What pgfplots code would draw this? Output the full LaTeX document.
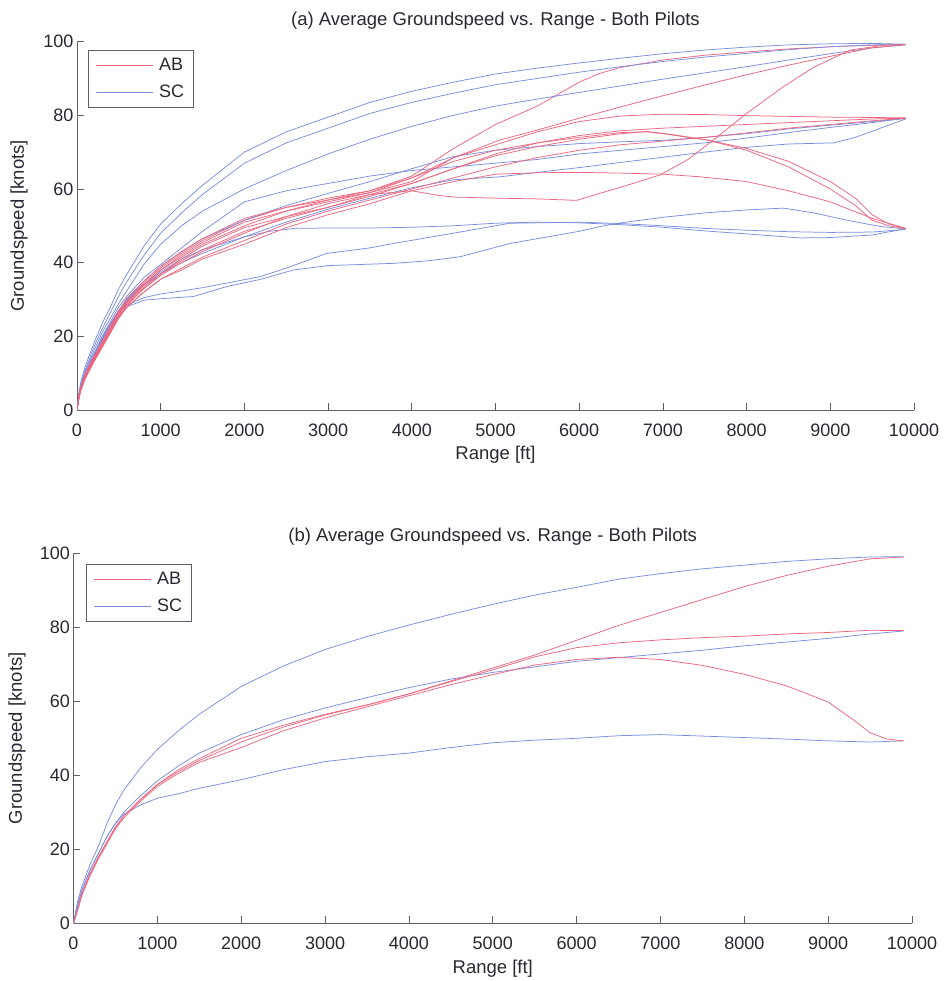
\documentclass[border=0pt]{standalone}
\usepackage{fontspec}
\setmainfont{Liberation Sans}
\usepackage{pgfplots}
\pgfplotsset{compat=1.18}
\definecolor{ab}{RGB}{238,102,126}
\definecolor{sc}{RGB}{122,142,222}
\definecolor{axc}{RGB}{95,95,115}
\definecolor{txt}{RGB}{40,40,50}
\pgfplotsset{mystyle/.style={
  scale only axis,
  xmin=0,xmax=10000,ymin=0,ymax=100,
  axis x line*=bottom, axis y line*=left,
  axis line style={axc,line width=0.8pt,-},
  tick align=inside, major tick length=7pt, tick style={axc,line width=0.8pt},
  xtick={0,1000,...,10000}, ytick={0,20,...,100},
  scaled x ticks=false,
  /pgf/number format/assume math mode=true,
  /pgf/number format/set thousands separator={},
  tick label style={font=\fontsize{18}{20}\selectfont, text=txt},
  xticklabel style={anchor=center, yshift=-20pt},
  label style={font=\fontsize{18.5}{21}\selectfont, text=txt},
  title style={font=\fontsize{18.5}{21}\selectfont, text=txt, at={(0.5,1)}, anchor=base},
  xlabel={Range [ft]}, ylabel={Groundspeed [knots]},
  legend style={draw=axc, line width=0.6pt, font=\fontsize{18}{20}\selectfont, text=txt,
     anchor=north west, inner xsep=7pt, inner ysep=6pt, row sep=9pt, column sep=4pt,
     nodes={inner sep=2pt}, cells={anchor=west}},
  legend image code/.code={\draw[#1,line width=0.75pt] (0pt,0pt) -- (57pt,0pt);},
  every axis plot/.append style={line width=0.75pt},
}}
\begin{document}
\begin{tikzpicture}
\useasboundingbox (0,0) rectangle (944pt,981pt);
% ---------------- (a) ----------------
\begin{axis}[mystyle, at={(77pt,571pt)}, anchor=south west, width=837pt, height=368.4pt,
  title={(a) Average Groundspeed vs. Range - Both Pilots},
  title style={yshift=10.5pt},
  xlabel style={at={(axis description cs:0.5,-0.1222)}, anchor=center},
  ylabel style={at={(axis description cs:-0.0693,0.5)}, anchor=center},
  legend style={at={(axis description cs:0.0131,0.977)}}]
% R1 -> 99
\addplot[ab] coordinates {(0,0)(25,4)(50,6.5)(100,9.5)(200,14)(300,18.5)(400,22.5)(500,27)(600,30)(800,34.5)(1000,38.5)(1250,42.5)(1500,46)(2000,51.5)(2500,55)(3000,57.5)(3500,59.5)(4000,63.5)(4500,71)(5000,77.5)(5500,82.5)(6000,89)(6250,91.4)(6500,93)(7000,95)(7500,96.3)(8000,97.2)(8500,98)(9000,98.6)(9500,99)(9900,99.2)};
\addlegendentry{AB}
% B1 -> 99
\addplot[sc] coordinates {(0,0)(25,5)(50,8)(100,12)(200,18)(300,23.5)(400,28)(500,33)(600,37)(800,44.5)(1000,50.5)(1250,56)(1500,61)(2000,70)(2500,75.5)(3000,79.5)(3500,83.5)(4000,86.5)(4500,89)(5000,91.2)(5500,92.8)(6000,94.2)(6500,95.5)(7000,96.7)(7500,97.7)(8000,98.5)(8500,99.1)(9000,99.4)(9500,99.5)(9900,99.3)};
\addlegendentry{SC}
% B2 -> 99
\addplot[sc,forget plot] coordinates {(0,0)(25,4.5)(50,7.5)(100,11)(200,17)(300,22)(400,26.5)(500,31)(600,35)(800,42)(1000,48)(1250,53.5)(1500,58.5)(2000,67)(2500,72.5)(3000,76.5)(3500,80.5)(4000,83.5)(4500,86)(5000,88.3)(5500,90)(6000,91.7)(6500,93.2)(7000,94.6)(7500,95.8)(8000,96.8)(8500,97.8)(9000,98.6)(9500,99.1)(9900,99.2)};
% B3 -> 99
\addplot[sc,forget plot] coordinates {(0,0)(25,4.5)(50,7)(100,10.5)(200,16)(300,21)(400,25)(500,29)(600,32.5)(800,39.5)(1000,45)(1250,50)(1500,54)(2000,60)(2500,65)(3000,69.5)(3500,73.5)(4000,77)(4500,80)(5000,82.5)(5500,84.4)(6000,86.2)(6500,88)(7000,89.8)(7500,91.5)(8000,93.2)(8500,95)(9000,96.7)(9500,98.3)(9900,99.1)};
% B4 -> 79
\addplot[sc,forget plot] coordinates {(0,0)(25,4)(50,6.5)(100,10)(200,15)(300,20)(400,24)(500,28)(600,31)(800,36)(1000,39.5)(1250,44)(1500,48.5)(2000,56.5)(2500,59.5)(3000,61.5)(3500,63.5)(4000,65)(4500,66)(5000,67)(5500,68)(6000,69.5)(6500,70.5)(7000,71.5)(7500,72.5)(8000,73.8)(8500,75.3)(9000,76.7)(9500,78)(9900,79.2)};
% B5 -> 79
\addplot[sc,forget plot] coordinates {(0,0)(25,4)(50,6.5)(100,9.5)(200,14.5)(300,19)(400,23)(500,26.5)(600,29.5)(800,34)(1000,37)(1250,40)(1500,42.5)(2000,47)(2500,51)(3000,54.5)(3500,57.5)(4000,60.3)(4500,62.5)(5055,63.3)(5500,64.5)(6000,65.8)(6500,67.2)(7000,68.6)(7500,70)(8000,71.3)(8500,72.2)(9040,72.5)(9300,74)(9600,76.5)(9900,79)};
% B6 -> 79
\addplot[sc,forget plot] coordinates {(0,0)(25,4)(50,6.5)(100,10)(200,15)(300,19.5)(400,23.5)(500,27)(600,30)(800,35)(1000,39)(1250,43)(1500,46.5)(2000,51.5)(2500,55.5)(3000,58.8)(3500,62)(4000,65.5)(4500,68.8)(5000,70.5)(5500,71.5)(6000,72.3)(6500,72.8)(7000,73.2)(7500,74)(8000,75)(8500,76.3)(9000,77.3)(9500,78.3)(9900,79.1)};
% B7 -> 49
\addplot[sc,forget plot] coordinates {(0,0)(25,4)(50,6.5)(100,10)(200,15)(300,19.5)(400,23.5)(500,27)(600,30)(800,34)(1000,37.5)(1250,41)(1500,43.5)(2000,47)(2300,48.5)(2600,49.3)(3000,49.4)(3500,49.4)(4000,49.6)(4500,50)(5000,50.7)(5500,51)(6000,50.8)(6500,50.3)(7000,49.6)(7500,48.6)(8000,47.8)(8640,46.7)(9000,46.8)(9500,47.5)(9900,49.2)};
% B8 -> 49
\addplot[sc,forget plot] coordinates {(0,0)(25,4)(50,6.5)(100,9.5)(200,14.5)(300,19)(400,23)(500,26.5)(600,28.5)(800,30.5)(1000,31.5)(1250,32.3)(1500,33.2)(1800,34.5)(2187,36.2)(2500,38.5)(2983,42.5)(3500,44)(3780,45.2)(4500,48)(5174,50.7)(5500,50.8)(6000,51)(6500,50.6)(7000,50)(7500,49.3)(8000,48.8)(8500,48.4)(9000,48.2)(9500,48.3)(9900,49)};
% B9 -> 49
\addplot[sc,forget plot] coordinates {(0,0)(25,4)(50,6)(100,9)(200,13.5)(300,18)(400,22)(500,25.5)(593,28)(800,29.8)(1000,30.2)(1390,30.8)(1788,33.5)(2200,35.5)(2585,38)(3000,39.2)(3780,39.8)(4200,40.5)(4577,41.6)(5174,45.2)(5500,46.5)(6000,48.5)(6250,49.8)(6500,50.8)(7000,52.3)(7500,53.5)(8000,54.3)(8440,54.8)(8800,53.5)(9200,51.5)(9600,49.8)(9900,49.2)};
% R2 -> 99
\addplot[ab,forget plot] coordinates {(0,0)(25,4)(50,6)(100,9)(200,13.5)(300,18)(400,22)(500,26.5)(600,29.5)(800,34)(1000,38)(1250,42)(1500,45.5)(2000,51)(2500,54)(3000,56.5)(3500,59)(4000,62)(4500,68.5)(5055,73.3)(5500,76)(6000,79.2)(6500,82.3)(7000,85.3)(7500,88.2)(8000,91)(8500,93.6)(9000,96)(9500,98.3)(9900,99.2)};
% R3 -> 99 (dip)
\addplot[ab,forget plot] coordinates {(0,0)(25,3.5)(50,6)(100,9)(200,13.5)(300,17.5)(400,21.5)(500,26)(600,29)(800,33.5)(1000,37)(1250,41)(1500,44.5)(2000,49.5)(2500,52.5)(3000,55)(3500,58.5)(4000,59.5)(4300,58.3)(4500,57.8)(5000,57.5)(5500,57.3)(5970,56.9)(6200,58.5)(6500,60.5)(6967,63.8)(7300,68)(7604,73.3)(8000,80.5)(8442,87.8)(8800,93)(9237,97.7)(9637,99)(9900,99.2)};
% R4 -> 79 (80 plateau)
\addplot[ab,forget plot] coordinates {(0,0)(25,4)(50,6.5)(100,9.5)(200,14)(300,18)(400,22)(500,26.5)(600,29.5)(800,34)(1000,38)(1250,41.5)(1500,45)(2000,50)(2500,54)(3000,57)(3500,59)(4000,63)(4500,68.5)(5000,72)(5500,75.5)(6000,78.3)(6500,79.8)(7000,80.3)(7500,80.2)(8000,79.9)(8500,79.7)(9000,79.5)(9500,79.4)(9900,79.3)};
% R5 -> 79
\addplot[ab,forget plot] coordinates {(0,0)(25,3.5)(50,6)(100,9)(200,13.5)(300,17.5)(400,21.5)(500,25.5)(600,28.5)(800,33)(1000,36.5)(1250,40)(1500,43)(2000,48)(2500,52.5)(3000,56)(3500,58.5)(4000,61.5)(4500,65.5)(5000,69.5)(5500,72.5)(6000,74.5)(6500,75.8)(7000,76.5)(7500,77)(8000,77.5)(8500,78)(9000,78.5)(9500,79)(9900,79.2)};
% R6 -> 79
\addplot[ab,forget plot] coordinates {(0,0)(25,3.5)(50,6)(100,9)(200,13)(300,17)(400,21)(500,25)(600,28)(800,32)(1000,35.5)(1250,38.5)(1500,41.5)(2000,46)(2500,50.5)(3000,54)(3500,57)(4000,60)(4500,63)(5000,66)(5500,68.5)(6000,70.5)(6500,72)(7000,73)(7500,74)(8000,75.2)(8500,76.5)(9000,77.5)(9500,78.5)(9900,79.2)};
% R7 -> 49
\addplot[ab,forget plot] coordinates {(0,0)(25,4)(50,6.5)(100,10)(200,14.5)(300,18.5)(400,23)(500,27)(600,30.5)(800,35)(1000,39)(1250,43)(1500,46.5)(2000,52)(2500,55)(3000,57)(3500,59.5)(4000,63)(4500,67.5)(5000,70.5)(5500,72.5)(6000,74)(6500,75.3)(6800,75.5)(7000,75)(7300,74)(7525,73.3)(8000,71)(8500,67.5)(9000,62)(9300,57.5)(9500,53)(9700,50.5)(9900,49.3)};
% R8 -> 49
\addplot[ab,forget plot] coordinates {(0,0)(25,3.5)(50,6)(100,9)(200,13.5)(300,17.5)(400,21.5)(500,26)(600,29)(800,33)(1000,37)(1250,40.5)(1500,43.5)(2000,48.5)(2500,52)(3000,55)(3500,58)(4000,61.5)(4500,65.5)(5000,69)(5500,71.5)(6000,73.5)(6500,75)(6800,75.6)(7100,74.8)(7525,73.3)(8000,70.5)(8500,66)(9000,60)(9300,55.5)(9500,51.5)(9700,50)(9900,49.2)};
% R9 -> 49
\addplot[ab,forget plot] coordinates {(0,0)(25,3.5)(50,5.5)(100,8.5)(200,13)(300,17)(400,21)(500,25)(600,28)(800,32)(1000,35.5)(1250,38)(1500,41)(2000,45)(2500,49.5)(3000,53)(3500,56)(4000,59.5)(4500,62)(5000,64)(5500,64.4)(6000,64.5)(6500,64.3)(7000,64)(7445,63.3)(8000,62)(8500,59.5)(9000,56.5)(9500,52)(9900,49.3)};
\end{axis}
% ---------------- (b) ----------------
\begin{axis}[mystyle, at={(73.5pt,57.7pt)}, anchor=south west, width=838.5pt, height=370pt,
  title={(b) Average Groundspeed vs. Range - Both Pilots},
  title style={yshift=6pt},
  xlabel style={at={(axis description cs:0.5,-0.1235)}, anchor=center},
  ylabel style={at={(axis description cs:-0.0674,0.5)}, anchor=center},
  legend style={at={(axis description cs:0.0149,0.971)}}]
% AB -> 99
\addplot[ab] coordinates {(0,0)(50,4)(100,8)(200,13.5)(300,18)(400,22)(500,26)(600,29)(800,33.5)(1000,37.5)(1250,41)(1500,44)(2000,49)(2500,53)(3000,56.3)(3500,59)(4000,62)(4500,65.5)(5000,69)(5500,72.5)(6000,76.5)(6500,80.5)(7000,84)(7500,87.5)(8000,91)(8500,94)(9000,96.5)(9500,98.5)(9900,99)};
\addlegendentry{AB}
% SC -> 99
\addplot[sc] coordinates {(0,0)(50,6)(100,10)(200,16)(300,21)(400,27)(500,32)(600,36)(800,42)(1000,47)(1250,52)(1500,56.5)(2000,64)(2500,69.5)(3000,74)(3500,77.5)(4000,80.6)(4500,83.5)(5000,86.2)(5500,88.7)(6000,90.8)(6500,93)(7000,94.5)(7500,95.8)(8000,96.8)(8500,97.8)(9000,98.5)(9500,99)(9900,99.1)};
\addlegendentry{SC}
% SC -> 79
\addplot[sc,forget plot] coordinates {(0,0)(50,5)(100,9)(200,14.5)(300,19)(400,23.5)(500,27)(600,30)(800,34.5)(1000,38.5)(1250,42.5)(1500,46)(2000,51)(2500,55)(3000,58.2)(3500,61)(4000,63.7)(4500,66)(5000,67.8)(5500,69.3)(6000,70.8)(6500,71.8)(7000,72.8)(7500,73.8)(8000,75)(8500,76)(9000,77)(9500,78.2)(9900,79)};
% SC -> 49
\addplot[sc,forget plot] coordinates {(0,0)(50,5)(100,9)(200,14.5)(300,19)(400,23.5)(500,27)(600,29.5)(800,32)(1000,33.8)(1250,35)(1500,36.5)(2000,38.8)(2500,41.5)(3000,43.7)(3500,45)(4000,46)(4500,47.5)(5000,48.8)(5500,49.5)(6000,50)(6500,50.7)(7000,51)(7500,50.6)(8000,50.2)(8500,49.8)(9000,49.3)(9500,49)(9900,49.3)};
% AB -> 79
\addplot[ab,forget plot] coordinates {(0,0)(50,4)(100,8)(200,13.5)(300,18)(400,22)(500,26)(600,29)(800,33.5)(1000,37.5)(1250,41.5)(1500,44.5)(2000,50)(2500,53.5)(3000,56.5)(3500,59)(4000,62)(4500,65.3)(5000,68.5)(5500,72)(6000,74.5)(6500,75.8)(7000,76.6)(7500,77.2)(8000,77.6)(8500,78.2)(9000,78.6)(9500,79.2)(9900,79.1)};
% AB -> 49
\addplot[ab,forget plot] coordinates {(0,0)(50,3.5)(100,7.5)(200,13)(300,17.5)(400,21.5)(500,25.5)(600,28.5)(800,33)(1000,37)(1250,40.5)(1500,43.5)(2000,47.5)(2500,52)(3000,55.5)(3500,58.5)(4000,61.5)(4500,64.5)(5000,67.2)(5500,69.8)(6000,71.3)(6500,71.9)(7000,71.3)(7500,69.7)(8000,67.3)(8500,64.2)(9000,59.8)(9300,55)(9500,51.5)(9700,49.8)(9900,49.3)};
\end{axis}
\end{tikzpicture}
\end{document}
